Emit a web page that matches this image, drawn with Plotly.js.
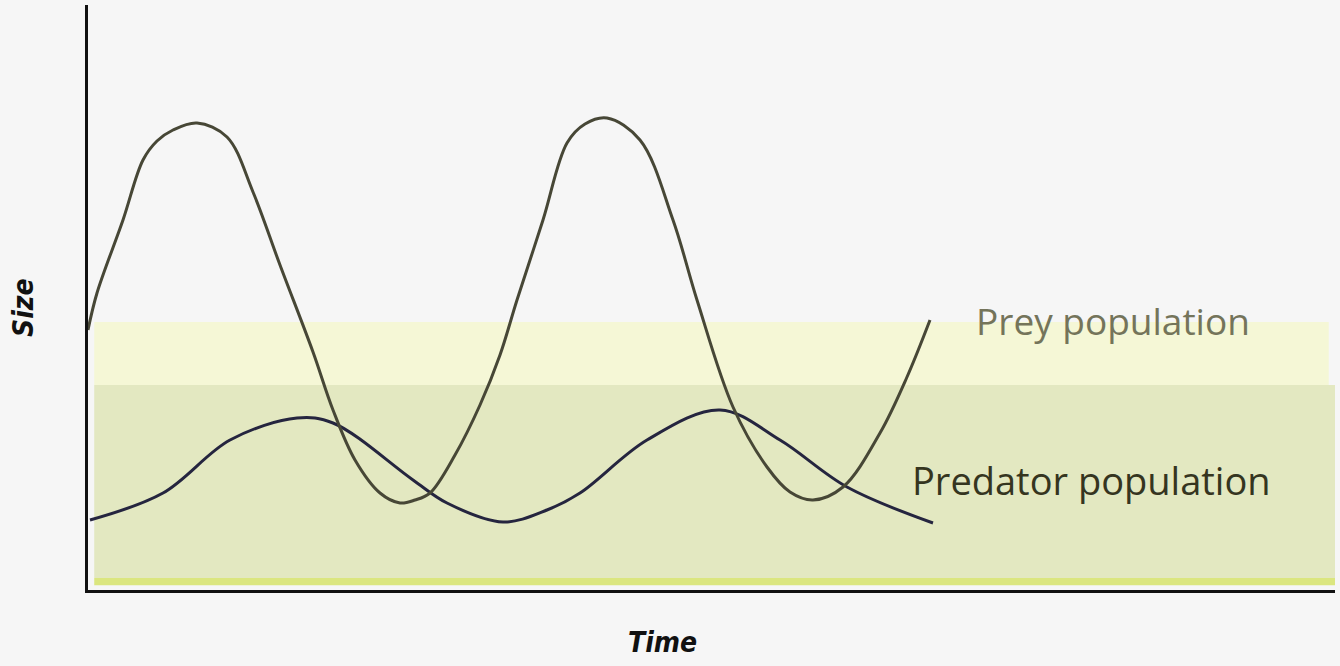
<!DOCTYPE html>
<html>
<head>
<meta charset="utf-8">
<script src="https://cdn.plot.ly/plotly-3.0.1.min.js"></script>
<style>html,body{margin:0;padding:0;background:#f6f6f6;}#chart{width:1340px;height:666px;}</style>
</head>
<body>
<div id="chart"></div>
<script>
// Prey population (time, size)
const preyTime = [0, 0.9, 3.5, 5.5, 6.9, 8.5, 10.9, 13.9, 16.5, 19.2, 22.5, 24.5, 26.7, 29.2, 31.2, 32.7, 34.2, 36.7, 39.2, 41.2, 42.9, 45.5, 47.9, 49.7, 51.9, 55.2, 58.5, 60.9, 64.5, 67.9, 70.2, 72.5, 75.5, 79.2, 81.9, 84.2];
const preySize = [26.0, 29.7, 37.0, 43.0, 44.9, 46.0, 46.7, 45.3, 39.8, 32.5, 23.8, 18.0, 13.0, 9.7, 8.7, 9.0, 9.7, 13.5, 18.5, 23.5, 29.0, 37.0, 44.7, 46.6, 47.2, 45.0, 37.0, 29.0, 18.3, 12.3, 9.8, 9.0, 10.3, 15.7, 21.3, 27.0];
// Predator population (time, size)
const predTime = [0.2, 7.5, 14.2, 20.9, 24.5, 32.5, 35.9, 41.5, 45.9, 49.2, 55.9, 63.2, 69.2, 75.9, 84.5];
const predSize = [7.0, 9.7, 15.0, 17.2, 16.7, 11.0, 8.7, 6.8, 8.0, 9.7, 15.0, 18.0, 15.0, 10.3, 6.7];
const labels = {prey: "Prey population", predator: "Predator population", x: "Time", y: "Size"};

const traces = [
  {x: predTime, y: predSize, mode: "lines", line: {color: "#25253f", width: 3, shape: "spline", smoothing: 1}, hoverinfo: "skip", showlegend: false},
  {x: preyTime, y: preySize, mode: "lines", line: {color: "#474736", width: 3, shape: "spline", smoothing: 1}, hoverinfo: "skip", showlegend: false}
];

const titleFont = {family: "DejaVu Sans Condensed, Liberation Sans Narrow, sans-serif", size: 28, color: "#111", style: "italic", weight: 600};
const labelFamily = "Open Sans, Noto Sans, sans-serif";

const layout = {
  width: 1340, height: 666,
  margin: {l: 88, r: 5, t: 5, b: 76},
  paper_bgcolor: "#f6f6f6",
  plot_bgcolor: "rgba(0,0,0,0)",
  showlegend: false,
  xaxis: {range: [0, 124.7], showgrid: false, zeroline: false, showticklabels: false, ticks: "",
          showline: true, linecolor: "#111", linewidth: 3, fixedrange: true},
  yaxis: {range: [0, 58.5], showgrid: false, zeroline: false, showticklabels: false, ticks: "",
          showline: true, linecolor: "#111", linewidth: 3, fixedrange: true},
  shapes: [
    {type: "rect", xref: "paper", yref: "paper", x0: 0.005, x1: 0.995, y0: 0.3504, y1: 0.4581, fillcolor: "#f5f7d6", line: {width: 0}, layer: "below"},
    {type: "rect", xref: "paper", yref: "paper", x0: 0.005, x1: 1, y0: 0.0205, y1: 0.3504, fillcolor: "#e3e8c1", line: {width: 0}, layer: "below"},
    {type: "rect", xref: "paper", yref: "paper", x0: 0.005, x1: 1, y0: 0.008, y1: 0.0205, fillcolor: "#dbe67f", line: {width: 0}, layer: "below"}
  ],
  annotations: [
    {x: 116.4, y: 27, xref: "x", yref: "y", xanchor: "right", yanchor: "middle", text: labels.prey, showarrow: false,
     font: {family: labelFamily, size: 37, color: "#74745a"}},
    {x: 82.2, y: 11.0, xref: "x", yref: "y", xanchor: "left", yanchor: "middle", text: labels.predator, showarrow: false,
     font: {family: labelFamily, size: 38, color: "#35351f"}},
    {x: (662 - 88) / 1247, y: -(643 - 590) / 585, xref: "paper", yref: "paper", xanchor: "center", yanchor: "middle",
     text: labels.x, showarrow: false, font: titleFont},
    {x: -(88 - 24) / 1247, y: (590 - 308) / 585, xref: "paper", yref: "paper", xanchor: "center", yanchor: "middle",
     text: labels.y, showarrow: false, textangle: -90, font: titleFont}
  ]
};

Plotly.newPlot("chart", traces, layout, {displayModeBar: false, staticPlot: true});
</script>
</body>
</html>
